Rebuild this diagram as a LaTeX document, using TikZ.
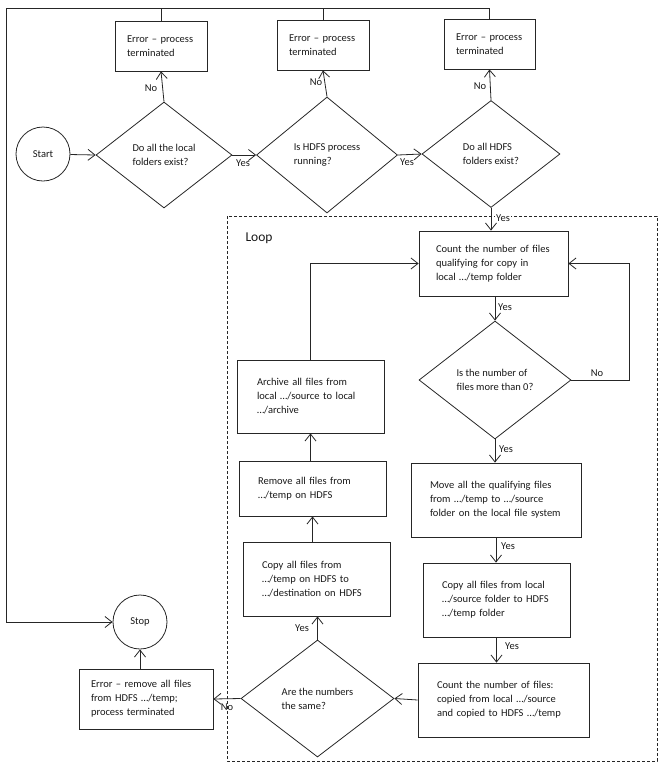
\documentclass[tikz,border=0pt]{standalone}
\usepackage{fontspec}
\setmainfont{Carlito}
\usetikzlibrary{shapes.geometric,arrows.meta}
\begin{document}
\begin{tikzpicture}[x=1pt,y=-1pt,
  every node/.style={font=\fontsize{10.5}{14}\selectfont, text=black!90},
  ln/.style={draw=black!85, line width=0.8pt},
  arr/.style={ln, -{Straight Barb[length=7pt,width=11pt,line width=0.8pt]}},
  box/.style={draw=black!85, line width=0.8pt, rectangle, align=left, inner ysep=2pt},
  dia/.style={draw=black!85, line width=0.8pt, diamond, align=left, inner sep=0pt},
  term/.style={draw=black!85, line width=0.8pt, circle, inner sep=0pt, minimum size=54pt},
  lbl/.style={inner sep=1pt}
]
\useasboundingbox (0,0) rectangle (664,764);

% loop frame
\draw[draw=black!85, line width=0.8pt, dash pattern=on 3pt off 2pt] (227,216) rectangle (657,761);
\node[font=\fontsize{13.5}{16}\selectfont, anchor=west] (looplbl) at (242,238) {Loop};

% top row
\node[term] (start) at (43,154) {Start};
\node[dia, minimum width=136pt, minimum height=106pt] (d1) at (164,155) {Do all the local\\folders exist?};
\node[dia, minimum width=141pt, minimum height=116pt] (d2) at (327,155) {Is HDFS process\\running?};
\node[dia, minimum width=138pt, minimum height=107pt] (d3) at (491,154) {Do all HDFS\\folders exist?};
\node[box, text width=68pt, inner xsep=12pt, minimum height=50pt] (e1) at (161,46) {Error -- process\\terminated};
\node[box, text width=68pt, inner xsep=12pt, minimum height=50pt] (e2) at (323,45) {Error -- process\\terminated};
\node[box, text width=67pt, inner xsep=12pt, minimum height=50pt] (e3) at (489.5,44) {Error -- process\\terminated};

% loop contents
\node[box, text width=115pt, inner xsep=17pt, minimum height=65pt] (c1) at (493.5,263.5) {Count the number of files\\qualifying for copy in\\local \ldots/temp folder};
\node[dia, minimum width=152pt, minimum height=118pt] (d4) at (495,380) {Is the number of\\files more than 0?};
\node[box, text width=132pt, inner xsep=19pt, minimum height=74pt] (mv) at (496,500) {Move all the qualifying files\\from \ldots/temp to \ldots/source\\folder on the local file system};
\node[box, text width=109pt, inner xsep=19pt, minimum height=74pt] (cl) at (496.5,600) {Copy all files from local\\\ldots/source folder to HDFS\\\ldots/temp folder};
\node[box, text width=133pt, inner xsep=19pt, minimum height=74pt] (c2) at (503.5,700) {Count the number of files:\\copied from local \ldots/source\\and copied to HDFS \ldots/temp};
\node[dia, minimum width=153pt, minimum height=117pt] (d5) at (317.5,698.5) {Are the numbers\\the same?};
\node[box, text width=109pt, inner xsep=19pt, minimum height=74pt] (ch) at (316.5,579) {Copy all files from\\\ldots/temp on HDFS to\\\ldots/destination on HDFS};
\node[box, text width=109pt, inner xsep=19pt, minimum height=55pt] (rm) at (312.5,488.5) {Remove all files from\\\ldots/temp on HDFS};
\node[box, text width=107pt, inner xsep=20pt, minimum height=73pt] (ar) at (310.5,396.5) {Archive all files from\\local \ldots/source to local\\\ldots/archive};

% bottom left
\node[box, text width=110pt, inner xsep=12pt, minimum height=60pt] (eb) at (146,699) {\mbox{Error -- remove all files}\\from HDFS \ldots/temp;\\process terminated};
\node[term] (stop) at (140,622) {Stop};

% connectors
\coordinate (tl) at (6,8);
\coordinate (nr) at (629,0);
\draw[arr] (start) -- (d1.west);
\draw[arr] (d1.north) -- (e1.south);
\draw[arr] (d1.east) -- (d2.west);
\draw[arr] (d2.north) -- (e2.south);
\draw[arr] (d2.east) -- (d3.west);
\draw[arr] (d3.north) -- (e3.south);
\draw[ln] (e1.north) -- (e1.north |- tl);
\draw[ln] (e2.north) -- (e2.north |- tl);
\draw[arr] (e3.north) -- (e3.north |- tl) -- (tl) -- (tl |- stop.west) -- (stop.west);
\draw[arr] (d3.south) -- (d3.south |- c1.north);
\draw[arr] (c1.south -| d4.north) -- (d4.north);
\draw[arr] (d4.east) -- (d4.east -| nr) -- (nr |- c1.east) -- (c1.east);
\draw[arr] (d4.south) -- (d4.south |- mv.north);
\draw[arr] (mv.south) -- (mv.south |- cl.north);
\draw[arr] (cl.south) -- (cl.south |- c2.north);
\draw[arr] (c2.west) -- (d5.east);
\draw[arr] (d5.west) -- (eb.east);
\draw[arr] (d5.north) -- (d5.north |- ch.south);
\draw[arr] (ch.north -| rm.south) -- (rm.south);
\draw[arr] (rm.north -| ar.south) -- (ar.south);
\draw[arr] (ar.north) -- (ar.north |- c1.west) -- (c1.west);
\draw[arr] (eb.north -| stop.south) -- (stop.south);

% labels
\node[lbl] (n1) at (151,88) {No};
\node[lbl] (n2) at (316,82) {No};
\node[lbl] (n3) at (480,86) {No};
\node[lbl] (y1) at (243,163) {Yes};
\node[lbl] (y2) at (407,162) {Yes};
\node[lbl, fill=white] (y3) at (503,218) {Yes};
\node[lbl] (y4) at (505,307) {Yes};
\node[lbl] (n4) at (597,373) {No};
\node[lbl] (y5) at (506,449) {Yes};
\node[lbl] (y6) at (508,546) {Yes};
\node[lbl] (y7) at (512,646) {Yes};
\node[lbl] (y8) at (302,628) {Yes};
\node[lbl] (n5) at (227,707) {No};
\end{tikzpicture}
\end{document}
